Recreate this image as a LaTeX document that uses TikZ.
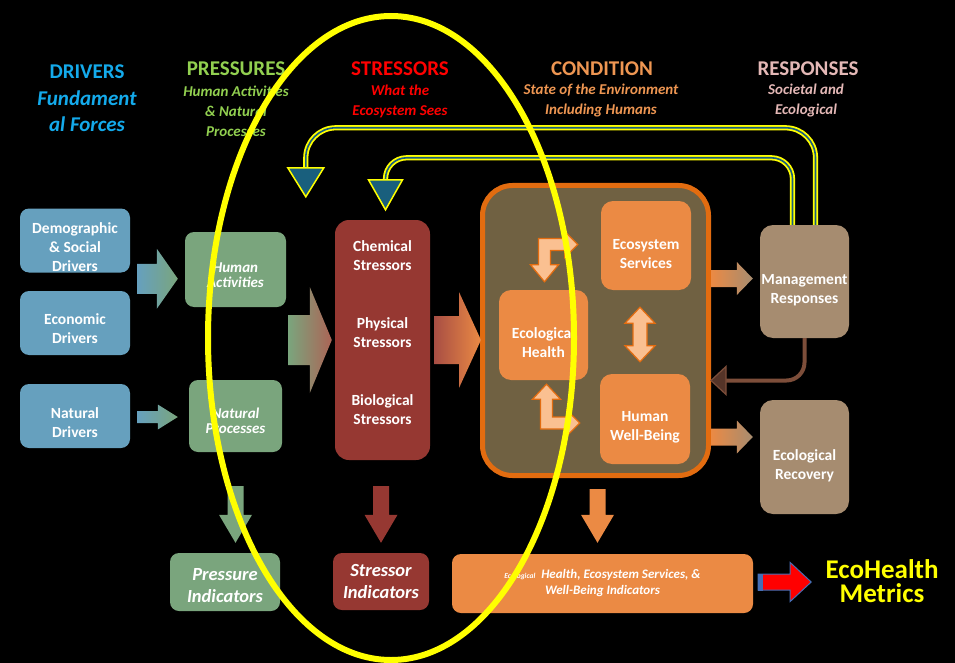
\documentclass[tikz,border=0pt]{standalone}
\usepackage{fontspec}
\setmainfont{Carlito}
\usetikzlibrary{calc,positioning}

\definecolor{ttlblue}{RGB}{20,170,235}
\definecolor{ttlgreen}{RGB}{146,208,80}
\definecolor{ttlorange}{RGB}{238,150,82}
\definecolor{ttlpink}{RGB}{228,184,182}
\definecolor{drvblue}{RGB}{102,160,190}
\definecolor{prsgreen}{RGB}{122,165,125}
\definecolor{strred}{RGB}{150,56,50}
\definecolor{cndorange}{RGB}{235,138,68}
\definecolor{cndedge}{RGB}{226,108,16}
\definecolor{cndback}{RGB}{112,97,66}
\definecolor{peach}{RGB}{250,192,145}
\definecolor{rsptan}{RGB}{166,140,112}
\definecolor{fbkbrown}{RGB}{125,78,58}
\definecolor{fbkdark}{RGB}{85,52,40}
\definecolor{looptea}{RGB}{25,95,125}
\definecolor{arrowblue}{RGB}{70,110,180}
\definecolor{metyellow}{RGB}{255,255,0}

\newcommand\hdfont{\fontsize{21}{25}\selectfont\bfseries}
\newcommand\sbfont{\fontsize{15}{20}\selectfont\bfseries\itshape}
\newcommand\bxfont{\fontsize{15.5}{19}\selectfont\bfseries}
% taller first line, so the text sits lower in its box
\newcommand\dropln[1]{\rule{0pt}{#1pt}}

% block arrow: [style]{from}{to}{shaft half}{head half}{head length}
\newcommand\blockarrow[6][]{%
  \path ($(#3)!#6!(#2)$) coordinate (bah);
  \path[#1] ($(#2)!#4!90:(#3)$) -- ($(bah)!#4!90:(#3)$) -- ($(bah)!#5!90:(#3)$) -- (#3)
    -- ($(bah)!#5!-90:(#3)$) -- ($(bah)!#4!-90:(#3)$) -- ($(#2)!#4!-90:(#3)$) -- cycle;
}
% double headed block arrow, same arguments
\newcommand\dblarrow[6][]{%
  \path ($(#2)!#6!(#3)$) coordinate (dba) ($(#3)!#6!(#2)$) coordinate (dbb);
  \path[#1] (#2) -- ($(dba)!#5!90:(#3)$) -- ($(dba)!#4!90:(#3)$) -- ($(dbb)!#4!90:(#3)$)
    -- ($(dbb)!#5!90:(#3)$) -- (#3) -- ($(dbb)!#5!-90:(#3)$) -- ($(dbb)!#4!-90:(#3)$)
    -- ($(dba)!#4!-90:(#3)$) -- ($(dba)!#5!-90:(#3)$) -- cycle;
}

\tikzset{
  head/.style={inner sep=0pt, align=center, font=\hdfont},
  subhead/.style={inner sep=0pt, align=center, font=\sbfont},
  tbox/.style={rounded corners=9pt, inner sep=0pt, align=center, text=white, font=\bxfont},
  drvbox/.style={tbox, fill=drvblue, minimum width=110, minimum height=64},
  prsbox/.style={tbox, fill=prsgreen, font=\fontsize{15}{15}\selectfont\bfseries\itshape},
  strbox/.style={tbox, fill=strred},
  cndbox/.style={tbox, fill=cndorange, minimum width=90, minimum height=90, rounded corners=12pt},
  rspbox/.style={tbox, fill=rsptan, minimum width=89, minimum height=114, rounded corners=13pt},
  indbox/.style={tbox, font=\fontsize{18.5}{22}\selectfont\bfseries\itshape},
  bentarr/.style={fill=peach, draw=cndedge, line width=1.2pt, line join=miter},
  loopline/.style={draw=metyellow, line width=1.8pt, double=looptea, double distance=1.6pt},
  loophead/.style={fill=looptea, draw=metyellow, line width=1.5pt, line join=miter},
}

\begin{document}
\begin{tikzpicture}[x=1pt,y=-1pt]
\useasboundingbox (0,0) rectangle (955,663);
\fill[black] (0,0) rectangle (955,663);

% column headings
\node[head, text=ttlblue] (drvt) at (87,72) {DRIVERS};
\node[subhead, text=ttlblue, font=\fontsize{21}{26}\selectfont\bfseries\itshape] (drvs) at (87,111) {Fundament\\al Forces};
\node[head, text=ttlgreen] (prst) at (236,69) {PRESSURES};
\node[subhead, text=ttlgreen] (prss) at (236,111) {Human Activities\\\& Natural\\Processes};
\node[head, text=red] (strt) at (400,69) {STRESSORS};
\node[subhead, text=red] (strs) at (400,101) {What the\\Ecosystem Sees};
\node[head, text=ttlorange] (cndt) at (602,69) {CONDITION};
\node[subhead, text=ttlorange] (cnds) at (601,101) {State of the Environment\\Including Humans};
\node[head, text=ttlpink] (rspt) at (808,69) {RESPONSES};
\node[subhead, text=ttlpink] (rsps) at (806,101) {Societal and\\Ecological};

% drivers
\node[drvbox] (dem) at (75,240.5) {\dropln{25}Demographic\\\& Social\\Drivers};
\node[drvbox] (eco) at (75,323) {\dropln{23}Economic\\Drivers};
\node[drvbox] (nat) at (75,416) {\dropln{24}Natural\\Drivers};

% pressures
\node[prsbox, minimum width=101, minimum height=75] (hum) at (235.5,269.5) {\dropln{22}Human\\Activities};
\node[prsbox, minimum width=93, minimum height=72] (npr) at (235.5,416) {\dropln{21}Natural\\Processes};

% stressors
\node[strbox, minimum width=95, minimum height=240, rounded corners=14pt] (str) at (382.5,340) {};
\node[tbox] (strtxt) at ($(str.center)+(0,-7)$) {Chemical\\Stressors\\[39pt]Physical\\Stressors\\[39pt]Biological\\Stressors};

% condition
\node[draw=cndedge, fill=cndback, line width=5pt, rounded corners=30pt,
      minimum width=226, minimum height=290] (cond) at (595.5,330.5) {};
\node[cndbox, minimum height=89] (ess) at (646,245.5) {\dropln{26.5}Ecosystem\\Services};
\node[cndbox, minimum width=89] (ecoh) at (543.5,335) {\dropln{26}Ecological\\Health};
\node[cndbox] (hwb) at (645,419) {\dropln{26}Human\\Well-Being};

% responses
\node[rspbox, minimum height=113] (mgmt) at (804.5,281.5) {\dropln{27}Management\\Responses};
\node[rspbox] (rec) at (804.5,457) {\dropln{29}Ecological\\Recovery};

% indicators
\node[indbox, fill=prsgreen, minimum width=110, minimum height=58] (pin) at (225,582) {\dropln{20}Pressure\\Indicators};
\node[indbox, fill=strred, minimum width=96, minimum height=57] (sin) at (381,581.5) {Stressor\\Indicators};
\node[indbox, fill=cndorange, minimum width=301, minimum height=59,
      font=\fontsize{13}{16}\selectfont\bfseries\itshape] (ehi) at (602.5,583.5)
      {{\fontsize{7.5}{8}\selectfont Ecological}\ \ Health, Ecosystem Services, \&\\Well-Being Indicators};
\node[head, text=metyellow, font=\fontsize{27}{27}\selectfont\bfseries] (ehm) at (882,569) {EcoHealth};
\node[head, text=metyellow, font=\fontsize{27}{27}\selectfont\bfseries, below=5pt of ehm] (ehm2) {Metrics};

% horizontal block arrows
\coordinate (a1s) at ($(dem.east)!.5!(eco.east)+(7,-3)$);
\coordinate (a1e) at ($(a1s -| hum.west)+(-7,0)$);
\blockarrow[left color=drvblue, right color=prsgreen]{a1s}{a1e}{15pt}{30pt}{21pt}
\coordinate (a2s) at ($(nat.east)+(7,1)$);
\coordinate (a2e) at ($(a2s -| npr.west)+(-11,0)$);
\blockarrow[left color=drvblue, right color=prsgreen]{a2s}{a2e}{6pt}{12.5pt}{20pt}
\coordinate (a3s) at ($(hum.east |- str.center)+(2,0)$);
\coordinate (a3e) at ($(str.west)+(-3,0)$);
\blockarrow[left color=prsgreen, right color={rgb,255:red,172;green,100;blue,86}]{a3s}{a3e}{25pt}{53pt}{22pt}
\coordinate (a4s) at ($(str.east)+(4,0)$);
\coordinate (a4e) at ($(str.east -| cond.west)+(1,0)$);
\blockarrow[left color={rgb,255:red,168;green,78;blue,68}, right color=cndorange]{a4s}{a4e}{24pt}{48pt}{22pt}
\coordinate (a5s) at ($(mgmt.west -| cond.east)+(0,-3)$);
\coordinate (a5e) at ($(mgmt.west)+(-7,-3)$);
\blockarrow[left color=cndorange, right color=rsptan]{a5s}{a5e}{8.5pt}{16.5pt}{16pt}
\coordinate (a6s) at ($(rec.west -| cond.east)+(0,-20)$);
\coordinate (a6e) at ($(rec.west)+(-7,-20)$);
\blockarrow[left color=cndorange, right color=rsptan]{a6s}{a6e}{8.5pt}{16.5pt}{16pt}

% down arrows to the indicators
\coordinate (d1s) at ($(npr.south)+(0,34)$);
\coordinate (d1e) at ($(d1s |- pin.north)+(0,-10)$);
\blockarrow[fill=prsgreen]{d1s}{d1e}{8pt}{16.5pt}{28pt}
\coordinate (d2s) at ($(str.south)+(-1.5,26)$);
\coordinate (d2e) at ($(d2s |- sin.north)+(0,-10)$);
\blockarrow[fill=strred]{d2s}{d2e}{8pt}{16.5pt}{28pt}
\coordinate (d3s) at ($(cond.south)+(2,11)$);
\coordinate (d3e) at ($(d3s |- ehi.north)+(0,-11)$);
\blockarrow[fill=cndorange]{d3s}{d3e}{8pt}{16.5pt}{28pt}

% to the metrics
\coordinate (ra1) at ($(ehi.east)+(5,-1.5)$);
\coordinate (ra2) at ($(ra1)+(53,0)$);
\blockarrow[fill=red, draw=arrowblue, line width=1pt, line join=miter]{ra1}{ra2}{8pt}{19.5pt}{21pt}
\fill[arrowblue] ($(ra1)+(0,-8.5)$) rectangle ($(ra1)+(5,8.5)$);

% arrows inside the condition box
\coordinate (dv1) at ($(ess.south)+(-6,17)$);
\coordinate (dv2) at ($(hwb.north)+(-5,-12)$);
\dblarrow[bentarr]{dv1}{dv2}{7pt}{15pt}{16pt}
\coordinate (la1) at ($(ecoh.north)+(1,-8)$);
\coordinate (la2) at ($(ess.west)+(-23,-1)$);
\filldraw[bentarr] let \p1=(la1), \p2=(la2) in
  (\p1) -- (\x1-14pt,\y1+17pt) -- (\x1-6pt,\y1+17pt) -- (\x1-6pt,\y2+6pt) -- (\x2-13pt,\y2+6pt)
  -- (\x2-13pt,\y2+13pt) -- (\p2) -- (\x2-13pt,\y2-13pt) -- (\x2-13pt,\y2-6pt)
  -- (\x1+6pt,\y2-6pt) -- (\x1+6pt,\y1+17pt) -- (\x1+14pt,\y1+17pt) -- cycle;
\coordinate (la3) at ($(ecoh.south)+(3,4)$);
\coordinate (la4) at ($(hwb.west)+(-20,4)$);
\filldraw[bentarr] let \p3=(la3), \p4=(la4) in
  (\p3) -- (\x3-14pt,\y3-15pt) -- (\x3-6pt,\y3-15pt) -- (\x3-6pt,\y4-6pt) -- (\x4-13pt,\y4-6pt)
  -- (\x4-13pt,\y4-13pt) -- (\p4) -- (\x4-13pt,\y4+13pt) -- (\x4-13pt,\y4+6pt)
  -- (\x3+6pt,\y4+6pt) -- (\x3+6pt,\y3-15pt) -- (\x3+14pt,\y3-15pt) -- cycle;

% feedback from management
\coordinate (fbe) at ($(cond.east)+(0,50)$);
\draw[fbkbrown, line width=4pt, rounded corners=18pt] (mgmt.south) |- ($(fbe)+(14,0)$);
\filldraw[fill=fbkdark, draw=fbkbrown, line width=1.2pt, line join=miter]
  (fbe) -- ++(15pt,14pt) -- ++(0,-28pt) -- cycle;

% yellow loops back to the pressures and stressors
\coordinate (yo1) at ($(mgmt.north)+(11,0)$);
\coordinate (yoe) at ($(str.north west)+(-29,-52)$);
\draw[loopline, rounded corners=30pt] (yo1) -- ++(0,-97) -| (yoe);
\filldraw[loophead] ($(yoe)+(-18,0)$) -- ($(yoe)+(18,0)$) -- ($(yoe)+(0,29)$) -- cycle;
\coordinate (yi1) at ($(mgmt.north)+(-12,0)$);
\coordinate (yie) at ($(str.north)+(3,-40)$);
\draw[loopline, rounded corners=21pt] (yi1) -- ++(0,-67) -| (yie);
\filldraw[loophead] ($(yie)+(-17,0)$) -- ($(yie)+(17,0)$) -- ($(yie)+(0,30)$) -- cycle;

% the yellow ring
\draw[metyellow, line width=6pt] (391,338) ellipse [x radius=183pt, y radius=322pt];
\end{tikzpicture}
\end{document}
